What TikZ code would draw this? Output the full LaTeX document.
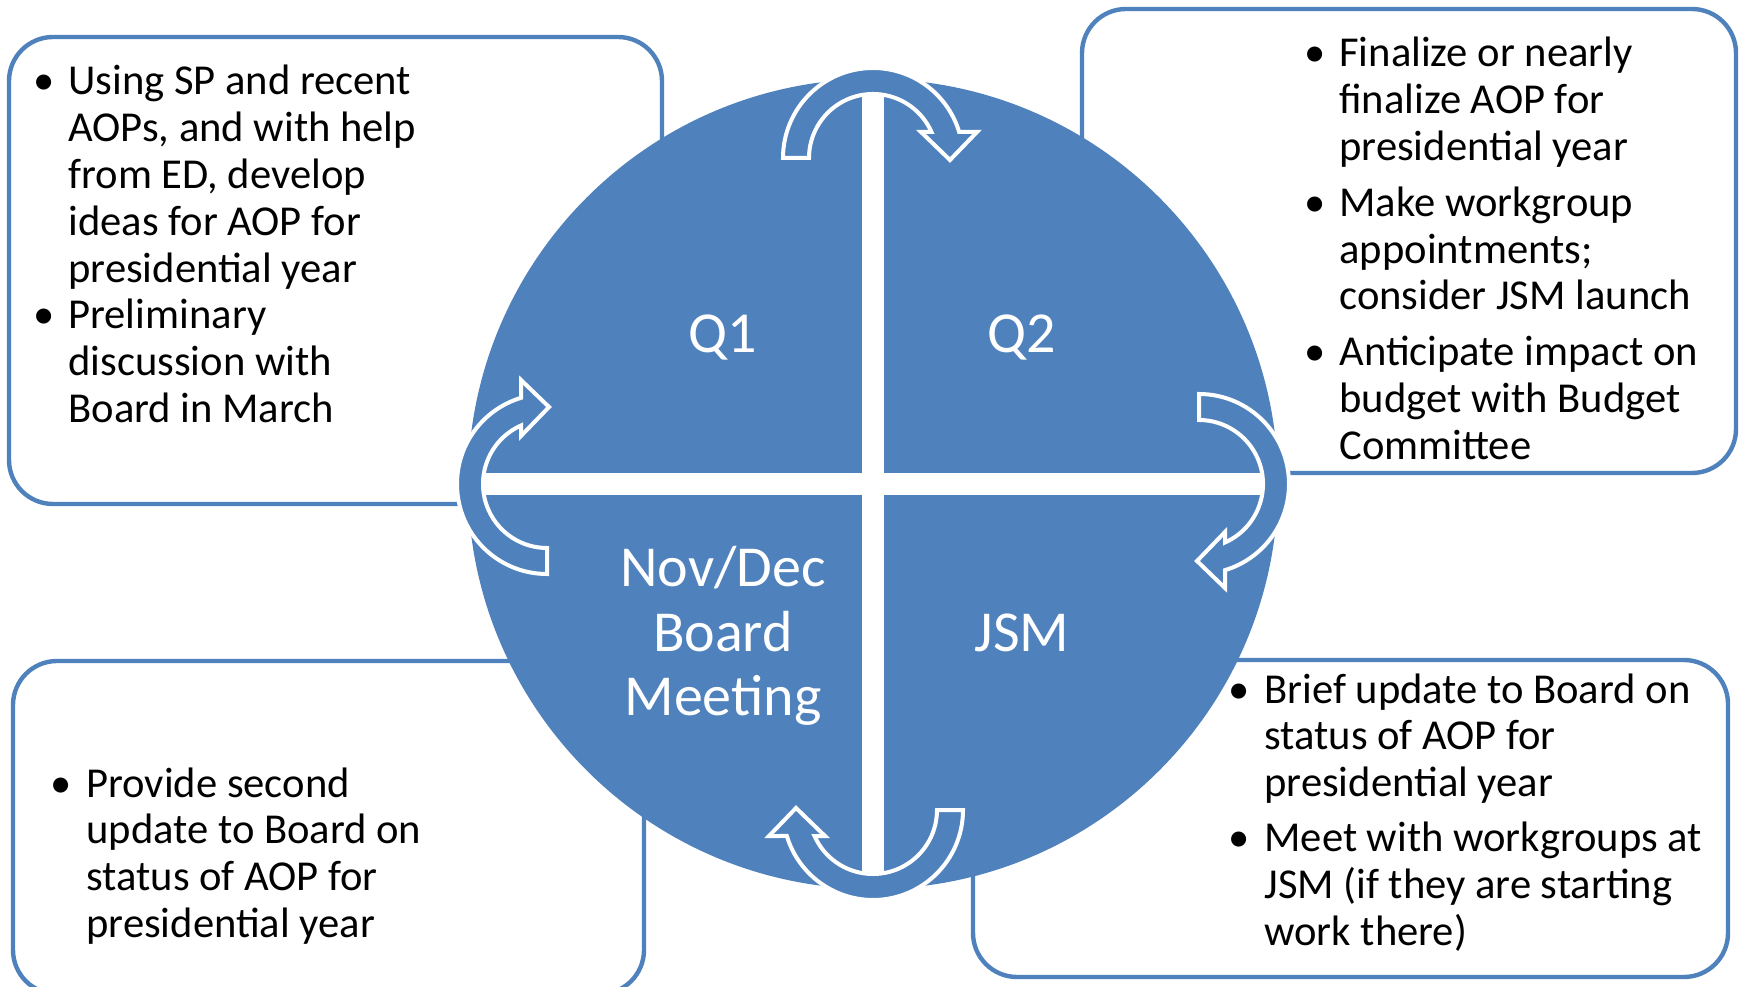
\documentclass[tikz,border=0pt]{standalone}
\usepackage{fontspec}
\setmainfont{Carlito}
\usepackage{tikz}
\usetikzlibrary{positioning,calc}
\definecolor{wheelblue}{RGB}{79,129,189}

\begin{document}
\begin{tikzpicture}[x=0.5pt,y=0.5pt,
        infobox/.style={rectangle,draw=wheelblue,line width=2.2pt,fill=white,rounded corners=22pt,inner sep=0pt},
        itemtext/.style={anchor=base west,inner sep=0pt,font=\fontsize{21.3}{23.4}\selectfont},
        quad/.style={anchor=base,inner sep=0pt,text=white,font=\fontsize{29}{32.3}\selectfont},
        cyclearrow/.pic={
          \filldraw[fill=wheelblue,draw=white,line width=2pt]
            (-64,0) -- (-90,0) arc[start angle=180,end angle=16.79,radius=90]
            -- (104,26) -- (77,-2) -- (48,26) -- (58.48,26)
            arc[start angle=23.97,end angle=180,radius=64] -- cycle;
        }]
   \useasboundingbox (0,0) rectangle (1745,986);

   % the four boxes behind the wheel
   \node[infobox,minimum width=326.5pt,minimum height=233.5pt] (A) at (335.5,715.5) {};
   \node[infobox,minimum width=327pt,minimum height=232pt] (B) at (1409,745) {};
   \node[infobox,minimum width=377.5pt,minimum height=158.5pt] (C) at (1350.5,167.5) {};
   \node[infobox,minimum width=315.5pt,minimum height=166.5pt] (D) at (328.5,158.5) {};

   % the wheel
   \node[circle,fill=wheelblue,minimum size=405pt,inner sep=0pt,outer sep=0pt] (W) at (873,502) {};
   \draw[white,line width=11pt] (W.west) -- (W.east);
   \draw[white,line width=11pt] (W.north) -- (W.south);

   \pic at (873,828) {cyclearrow};
   \pic[rotate=-90] at (1199,502) {cyclearrow};
   \pic[rotate=180] at (873,176) {cyclearrow};
   \pic[rotate=90] at (547,502) {cyclearrow};

   \node[quad] (L1) at (723,633) {Q1};
   \node[quad] (L2) at (1022,633) {Q2};
   \node[quad] (L3) at (1022,335) {JSM};
   \node[quad] (L4) at (723,399.5) {\begin{tabular}[t]{@{}c@{}}Nov/Dec\\Board\\Meeting\end{tabular}};

   % texts
   \node[itemtext] (TA) at (33,891) {\begin{tabular}[t]{@{}p{17.5pt}@{}l@{}}
      \textbullet & Using SP and recent\\
                  & AOPs, and with help\\
                  & from ED, develop\\
                  & ideas for AOP for\\
                  & presidential year\\
      \textbullet & Preliminary\\
                  & discussion with\\
                  & Board in March
   \end{tabular}};
   \node[itemtext] (TB) at (1304,919) {\begin{tabular}[t]{@{}p{17.5pt}@{}l@{}}
      \textbullet & Finalize or nearly\\
                  & finalize AOP for\\
                  & presidential year\\[4.5pt]
      \textbullet & Make workgroup\\
                  & appointments;\\
                  & consider JSM launch\\[4.5pt]
      \textbullet & Anticipate impact on\\
                  & budget with Budget\\
                  & Committee
   \end{tabular}};
   \node[itemtext] (TC) at (1228,283) {\begin{tabular}[t]{@{}p{18pt}@{}l@{}}
      \textbullet & Brief update to Board on\\
                  & status of AOP for\\
                  & presidential year\\[4pt]
      \textbullet & Meet with workgroups at\\
                  & JSM (if they are starting\\
                  & work there)
   \end{tabular}};
   \node[itemtext] (TD) at (50,189) {\begin{tabular}[t]{@{}p{18pt}@{}l@{}}
      \textbullet & Provide second\\
                  & update to Board on\\
                  & status of AOP for\\
                  & presidential year
   \end{tabular}};

\end{tikzpicture}
\end{document}
